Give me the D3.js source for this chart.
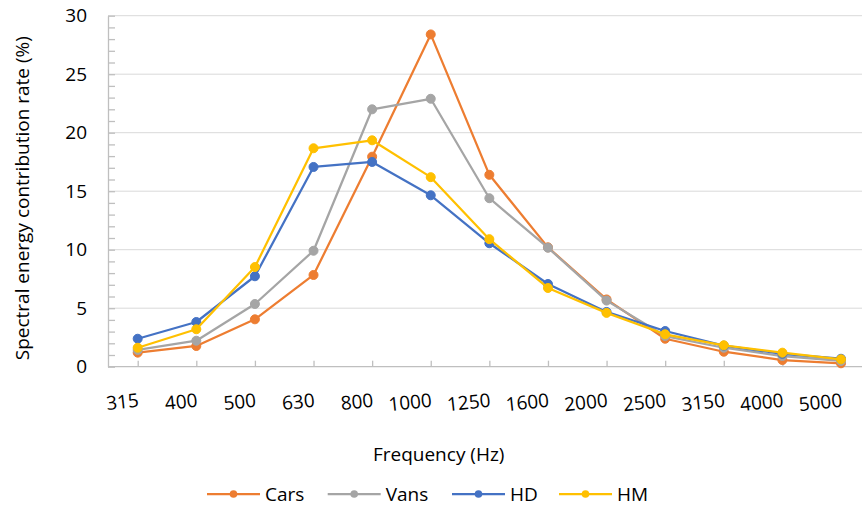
<!DOCTYPE html>
<html lang="en">
<head>
    <meta charset="UTF-8">
    <title>Spectral energy contribution rate</title>
    <style>
        body { margin: 0; background: #fff; }
        text { font-family: "Open Sans", Lato, sans-serif; fill: #000; }
        .grid line { stroke: #d9d9d9; stroke-width: 1; }
        .axis path, .axis line { stroke: #bfbfbf; stroke-width: 1.3; }
    </style>
    <script src="https://d3js.org/d3.v7.min.js"></script>
</head>
<body>
    <script>
        // data
        let frequencies = ["315", "400", "500", "630", "800", "1000", "1250", "1600", "2000", "2500", "3150", "4000", "5000"];
        let cars = [1.2, 1.77, 4.05, 7.84, 17.95, 28.4, 16.4, 10.2, 5.75, 2.39, 1.28, 0.57, 0.29];
        let vans = [1.43, 2.22, 5.36, 9.91, 22.0, 22.9, 14.4, 10.17, 5.65, 2.62, 1.62, 0.91, 0.49];
        let hd = [2.39, 3.82, 7.73, 17.07, 17.5, 14.65, 10.55, 7.07, 4.68, 3.05, 1.8, 1.1, 0.68];
        let hm = [1.62, 3.2, 8.52, 18.67, 19.35, 16.2, 10.9, 6.73, 4.6, 2.77, 1.83, 1.2, 0.63];
        let yTicks = [0, 5, 10, 15, 20, 25, 30];

        let series = [
            {name: "Cars", values: cars, color: "#ED7D31"},
            {name: "Vans", values: vans, color: "#A5A5A5"},
            {name: "HD", values: hd, color: "#4472C4"},
            {name: "HM", values: hm, color: "#FFC000"}
        ];

        let width = 865, height = 508;
        let plot = {left: 108, right: 862, top: 15.7, bottom: 366.7};
        let fontSize = "19px";

        let svg = d3.select("body")
            .append("svg")
            .attr("width", width)
            .attr("height", height);

        let x = d3.scalePoint().domain(frequencies).range([137.7, 841]);
        let y = d3.scaleLinear().domain([0, 30]).range([plot.bottom, plot.top]);

        // gridlines
        svg.append("g")
            .attr("class", "grid")
            .selectAll("line")
            .data(yTicks.slice(1))
            .enter().append("line")
            .attr("x1", plot.left).attr("x2", plot.right)
            .attr("y1", d => y(d)).attr("y2", d => y(d));

        // y axis with minor ticks pointing inward
        svg.append("g")
            .attr("class", "axis")
            .attr("transform", "translate(" + plot.left + ",0)")
            .call(d3.axisRight(y).ticks(30).tickSize(7).tickSizeOuter(0).tickFormat(""));

        svg.append("g")
            .selectAll("text")
            .data(yTicks)
            .enter().append("text")
            .attr("x", 87)
            .attr("y", d => y(d))
            .attr("dy", "0.35em")
            .attr("text-anchor", "end")
            .style("font-size", fontSize)
            .text(d => d);

        // x axis, ticks pointing up into the plot
        svg.append("g")
            .attr("class", "axis")
            .attr("transform", "translate(0," + plot.bottom + ")")
            .call(d3.axisTop(x).tickSize(6).tickSizeOuter(0).tickFormat(""))
            .select(".domain")
            .attr("d", "M" + plot.left + ",0H" + plot.right);

        svg.append("g")
            .selectAll("text")
            .data(frequencies)
            .enter().append("text")
            .attr("transform", d => "translate(" + (x(d) + 1) + ",400) rotate(-6)")
            .attr("dy", "0.35em")
            .attr("text-anchor", "end")
            .style("font-size", fontSize)
            .text(d => d);

        // lines and markers
        let line = d3.line()
            .x((d, i) => x(frequencies[i]))
            .y(d => y(d));

        series.forEach(function(s) {
            let g = svg.append("g");
            g.append("path")
                .attr("d", line(s.values))
                .attr("fill", "none")
                .attr("stroke", s.color)
                .attr("stroke-width", 2.25)
                .attr("stroke-linejoin", "round");
            g.selectAll("circle")
                .data(s.values)
                .enter().append("circle")
                .attr("cx", (d, i) => x(frequencies[i]))
                .attr("cy", d => y(d))
                .attr("r", 4.5)
                .attr("fill", s.color)
                .attr("stroke", s.color);
        });

        // axis titles
        svg.append("text")
            .attr("transform", "translate(22," + ((plot.top + plot.bottom) / 2 + 7) + ") rotate(-90)")
            .attr("text-anchor", "middle")
            .attr("dy", "0.35em")
            .style("font-size", fontSize)
            .text("Spectral energy contribution rate (%)");

        svg.append("text")
            .attr("x", 438.7)
            .attr("y", 454)
            .attr("dy", "0.35em")
            .attr("text-anchor", "middle")
            .style("font-size", fontSize)
            .text("Frequency (Hz)");

        // legend
        let legendX = [207, 327.7, 452, 559];
        let legend = svg.append("g")
            .selectAll("g")
            .data(series)
            .enter().append("g")
            .attr("transform", (d, i) => "translate(" + legendX[i] + ",494)");
        legend.append("line")
            .attr("x1", 0).attr("x2", 53)
            .attr("stroke", d => d.color)
            .attr("stroke-width", 2.25);
        legend.append("circle")
            .attr("cx", 26.5)
            .attr("r", 3.8)
            .attr("fill", d => d.color);
        legend.append("text")
            .attr("x", 58)
            .attr("dy", "0.35em")
            .style("font-size", fontSize)
            .text(d => d.name);
    </script>
</body>
</html>
